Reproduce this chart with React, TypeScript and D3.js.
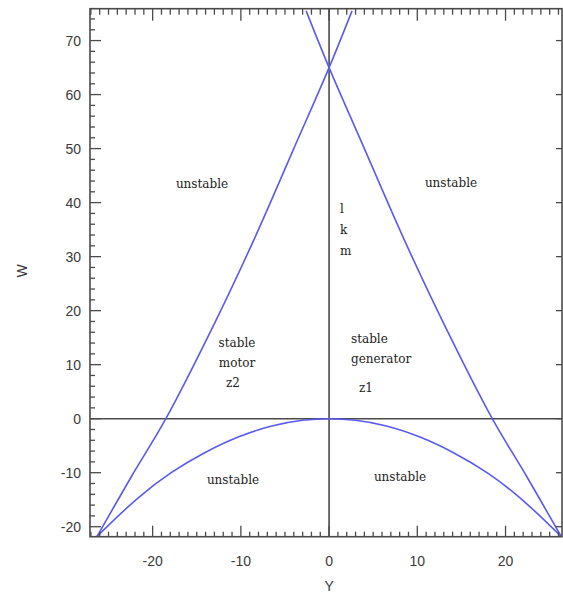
import React from "react";
import * as d3 from "d3";

const W = 563;
const H = 593;

// Boundary curve "\" (from upper-left across to lower-right); its mirror is the "/" curve
const boundX = [-2.6, 0, 4, 8.5, 13, 18.5, 22.4, 26.3];
const boundY = [75.5, 65, 50, 33.2, 17.6, 0, -10.7, -21.8];

// Lower arc
const arcX = [-26.3, -21.6, -17.9, -14.1, -10.3, -6.5, -3, 0, 3, 6.5, 10.3, 14.1, 17.9, 21.6, 26.3];
const arcY = [-21.8, -14.6, -10.0, -6.3, -3.4, -1.35, -0.3, 0, -0.3, -1.35, -3.4, -6.3, -10.0, -14.6, -21.8];

const xTickLabels = [-20, -10, 0, 10, 20];
const yTickLabels = [-20, -10, 0, 10, 20, 30, 40, 50, 60, 70];

const regionLabels = [
  { lines: ["unstable"], x: 202, y: 188, anchor: "middle" },
  { lines: ["unstable"], x: 451, y: 187, anchor: "middle" },
  { lines: ["l", "k", "m"], x: 340, y: 213, anchor: "start", gap: 21 },
  { lines: ["stable", "motor"], x: 237, y: 347, anchor: "middle", gap: 20 },
  { lines: ["z2"], x: 233, y: 387, anchor: "middle" },
  { lines: ["stable", "generator"], x: 351, y: 343, anchor: "start", gap: 20 },
  { lines: ["z1"], x: 366, y: 392, anchor: "middle" },
  { lines: ["unstable"], x: 233, y: 484, anchor: "middle" },
  { lines: ["unstable"], x: 400, y: 481, anchor: "middle" },
];

export default function App() {
  const left = 90, right = 562, top = 8.7, bottom = 536.7;
  const x = d3.scaleLinear().domain([-27.1, 26.4]).range([left, right]);
  const y = d3.scaleLinear().domain([-21.85, 75.9]).range([bottom, top]);

  const line = d3
    .line<[number, number]>()
    .x((d) => x(d[0]))
    .y((d) => y(d[1]))
    .curve(d3.curveCatmullRom.alpha(0.5));

  const b1 = boundX.map((v, i) => [v, boundY[i]] as [number, number]);
  const b2 = boundX.map((v, i) => [-v, boundY[i]] as [number, number]);
  const arc = arcX.map((v, i) => [v, arcY[i]] as [number, number]);

  const xMinor = d3.range(-27, 27, 1);
  const yMinor = d3.range(-20, 76, 2);
  const axisColor = "#4a4a4a";
  const blue = "#5a5af0";

  return (
    <svg
      width={W}
      height={H}
      style={{ position: "absolute", left: 0, top: 0, background: "#fff" }}
    >
      <defs>
        <clipPath id="plot">
          <rect x={left} y={top} width={right - left} height={bottom - top} />
        </clipPath>
      </defs>

      {/* zero lines */}
      <line x1={left} x2={right} y1={y(0)} y2={y(0)} stroke={axisColor} strokeWidth={1.6} />
      <line x1={x(0)} x2={x(0)} y1={top} y2={bottom} stroke={axisColor} strokeWidth={1.6} />

      {/* curves */}
      <g clipPath="url(#plot)" fill="none" stroke={blue} strokeWidth={1.6}>
        <path d={line(b1) || ""} />
        <path d={line(b2) || ""} />
        <path d={line(arc) || ""} />
      </g>

      {/* ticks */}
      <g stroke={axisColor} strokeWidth={1.3}>
        {xMinor.map((v) => {
          const major = v % 10 === 0;
          return (
            <g key={"xt" + v}>
              <line x1={x(v)} x2={x(v)} y1={bottom} y2={bottom - (major ? 11 : 5)} />
              <line x1={x(v)} x2={x(v)} y1={top} y2={top + (major ? 12 : 6)} />
            </g>
          );
        })}
        {yMinor.map((v) => {
          const major = v % 10 === 0;
          return (
            <g key={"yt" + v}>
              <line x1={left} x2={left + (major ? 11 : 5)} y1={y(v)} y2={y(v)} />
              {major && <line x1={right} x2={right - 6} y1={y(v)} y2={y(v)} />}
            </g>
          );
        })}
      </g>

      {/* frame */}
      <rect
        x={left}
        y={top}
        width={right - left}
        height={bottom - top}
        fill="none"
        stroke={axisColor}
        strokeWidth={1.6}
      />

      {/* tick labels */}
      <g fontFamily="Liberation Sans, Arial, sans-serif" fontSize={14} fill="#3a3a3a">
        {yTickLabels.map((v) => (
          <text key={"yl" + v} x={81} y={y(v)} dy="0.36em" textAnchor="end">
            {v}
          </text>
        ))}
        {xTickLabels.map((v) => (
          <text key={"xl" + v} x={x(v)} y={561} dy="0.36em" textAnchor="middle">
            {v}
          </text>
        ))}
        <text x={0} y={0} transform="translate(27,271) rotate(-90)" textAnchor="middle">
          W
        </text>
        <text x={x(0)} y={591} textAnchor="middle">
          Y
        </text>
      </g>

      {/* region labels */}
      <g fontFamily="DejaVu Serif, serif" fontSize={12} fill="#222">
        {regionLabels.map((r, i) => (
          <text key={"rl" + i} textAnchor={r.anchor as any}>
            {r.lines.map((t, j) => (
              <tspan key={j} x={r.x} y={r.y + j * (r.gap || 0)}>
                {t}
              </tspan>
            ))}
          </text>
        ))}
      </g>
    </svg>
  );
}
